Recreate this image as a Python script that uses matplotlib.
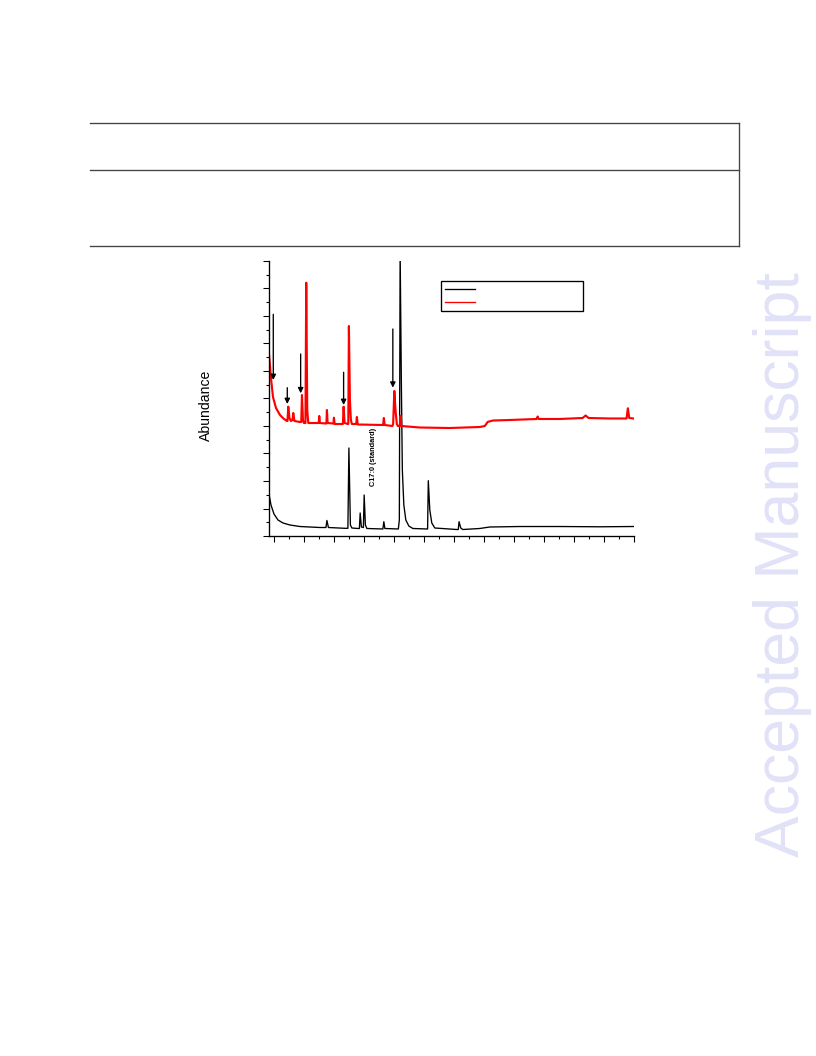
import matplotlib
matplotlib.use("Agg")
import matplotlib.pyplot as plt
from matplotlib.lines import Line2D
from matplotlib.ticker import MultipleLocator

plt.rcParams['font.family'] = ['Liberation Sans', 'DejaVu Sans']

# retention time (min) and abundance vertices
black_t = [3.647, 3.78, 3.98, 4.247, 4.58, 5.047, 5.713, 7.047, 7.447, 7.513,
           7.613, 8.713, 8.913, 8.98, 9.08, 9.18, 9.58, 9.68, 9.733, 9.813,
           9.947, 10.0, 10.08, 10.18, 11.247, 11.313, 11.38, 12.28, 12.347, 12.4,
           12.48, 12.547, 12.647, 12.78, 12.98, 13.247, 14.18, 14.233, 14.28, 14.38,
           14.513, 14.713, 16.18, 16.28, 16.333, 16.447, 16.58, 17.713, 18.38, 20.38,
           23.047, 25.713, 27.98]
black_v = [1.527, 1.127, 0.80, 0.582, 0.473, 0.40, 0.345, 0.309, 0.309, 0.564,
           0.309, 0.28, 0.28, 3.2, 0.40, 0.291, 0.273, 0.273, 0.836, 0.327,
           0.309, 1.491, 0.40, 0.273, 0.255, 0.52, 0.273, 0.255, 0.582, 10.4,
           5.673, 2.4, 1.127, 0.582, 0.364, 0.273, 0.255, 0.255, 2.011, 0.945,
           0.473, 0.291, 0.236, 0.236, 0.52, 0.291, 0.236, 0.273, 0.327, 0.345,
           0.345, 0.335, 0.345]

red_t = [3.647, 3.78, 3.913, 4.113, 4.38, 4.647, 4.847, 4.88, 4.933, 5.013,
         5.113, 5.213, 5.267, 5.347, 5.713, 5.8, 5.847, 5.913, 5.98, 6.08,
         6.133, 6.2, 6.267, 6.913, 6.967, 7.0, 7.047, 7.447, 7.48, 7.513,
         7.56, 7.947, 7.98, 8.027, 8.547, 8.58, 8.627, 8.693, 8.9, 8.94,
         8.98, 9.047, 9.113, 9.18, 9.467, 9.513, 9.567, 11.247, 11.267, 11.313,
         11.367, 11.88, 11.933, 12.013, 12.1, 12.18, 12.247, 12.38, 12.427, 12.48,
         13.713, 15.713, 17.713, 18.05, 18.25, 18.6, 19.713, 21.513, 21.58, 21.647,
         23.047, 24.58, 24.78, 24.98, 26.38, 27.513, 27.6, 27.693, 27.98]
red_v = [6.618, 5.745, 5.055, 4.655, 4.4, 4.255, 4.182, 4.182, 4.702, 4.291,
         4.182, 4.218, 4.473, 4.182, 4.145, 4.145, 5.127, 4.218, 4.109, 4.109,
         9.21, 4.582, 4.109, 4.109, 4.109, 4.364, 4.109, 4.091, 4.091, 4.582,
         4.109, 4.091, 4.302, 4.073, 4.073, 4.073, 4.702, 4.109, 4.073, 4.073,
         7.636, 4.945, 4.218, 4.073, 4.073, 4.327, 4.055, 4.036, 4.036, 4.291,
         4.036, 4.0, 4.073, 5.273, 4.509, 4.073, 4.0, 4.0, 4.375, 4.0,
         3.945, 3.927, 3.964, 4.0, 4.15, 4.2, 4.218, 4.255, 4.345, 4.255,
         4.255, 4.291, 4.382, 4.291, 4.273, 4.273, 4.644, 4.291, 4.273]

# arrows marking peaks in the red trace: x, tail y, head y
arrow_t = [3.933, 4.867, 5.76, 8.627, 11.913]
arrow_from = [8.062, 5.393, 6.618, 5.953, 7.527]
arrow_to = [5.673, 4.8, 5.189, 4.764, 5.393]

std_label = "C17:0 (standard)"
std_t, std_v = 10.647, 2.873

fig = plt.figure(figsize=(8.5, 11), dpi=96)
ax = fig.add_axes([269 / 816, 1 - 536 / 1056, 365 / 816, 275 / 1056])

l1, = ax.plot(black_t, black_v, color='black', lw=1.0)
l2, = ax.plot(red_t, red_v, color='red', lw=1.6)

for t, a, b in zip(arrow_t, arrow_from, arrow_to):
    ax.annotate('', xy=(t, b), xytext=(t, a),
                arrowprops=dict(arrowstyle='-|>', color='black', lw=1.0,
                                mutation_scale=8, shrinkA=0, shrinkB=0))

ax.text(std_t, std_v, std_label, rotation=90, fontsize=5.5, fontweight='bold',
        ha='center', va='center')

ax.set_xlim(3.647, 28.01)
ax.set_ylim(0, 10)
ax.xaxis.set_major_locator(MultipleLocator(2))
ax.xaxis.set_minor_locator(MultipleLocator(1))
ax.yaxis.set_major_locator(MultipleLocator(1))
ax.yaxis.set_minor_locator(MultipleLocator(0.5))
ax.tick_params(which='both', direction='out', labelleft=False, labelbottom=False, width=0.8)
ax.tick_params(which='major', length=4.5)
ax.tick_params(which='minor', length=2.3)
ax.spines['top'].set_visible(False)
ax.spines['right'].set_visible(False)
ax.spines['left'].set_linewidth(1.0)
ax.spines['bottom'].set_linewidth(1.0)

ax.text(-0.1726, 0.476, 'Abundance', transform=ax.transAxes, rotation=90,
        fontsize=10.5, ha='center', va='center')

leg = ax.legend([l1, l2], [' ', ' '], loc='upper left',
                bbox_to_anchor=(0.471, 0.818, 0.389, 0.109), mode='expand',
                fontsize=7, fancybox=False, framealpha=1, borderpad=0.4,
                labelspacing=0.5, handlelength=3.2, borderaxespad=0)
leg.get_frame().set_edgecolor('black')
leg.get_frame().set_linewidth(1.0)
for h in leg.get_lines():
    h.set_linewidth(1.0)

# empty table box above the figure
tc = '#444444'
for y in [123, 170, 246]:
    fig.add_artist(Line2D([90 / 816, 739 / 816], [1 - y / 1056] * 2, color=tc, lw=1.0))
fig.add_artist(Line2D([739 / 816] * 2, [1 - 123 / 1056, 1 - 246 / 1056], color=tc, lw=1.0))

fig.text(782 / 816, 1 - 565 / 1056, 'Accepted Manuscript', rotation=90,
         fontsize=47, color='#e1e1f8', ha='center', va='center')

fig.savefig('out.png', dpi=96)
